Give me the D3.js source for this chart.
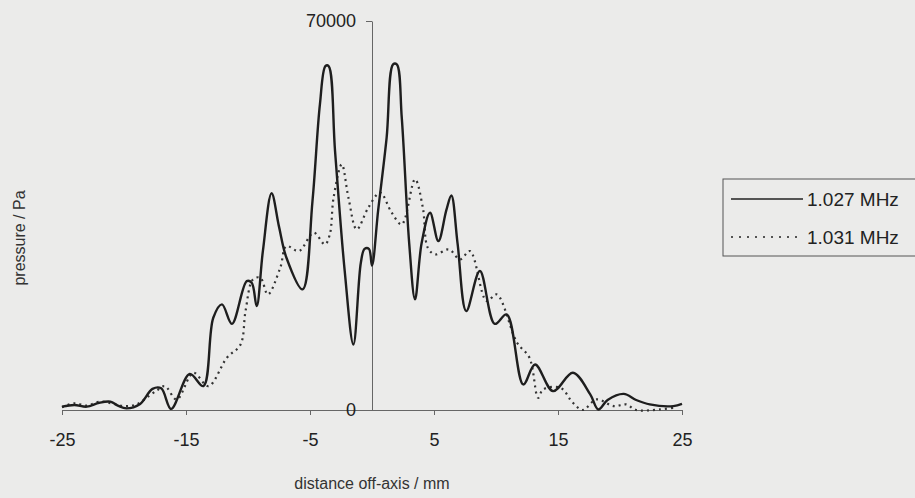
<!DOCTYPE html>
<html>
<head>
<meta charset="utf-8">
<script src="https://cdn.jsdelivr.net/npm/d3@7"></script>
<style>
  body { margin: 0; background: #ebebea; }
  svg { display: block; font-family: "Liberation Sans", Arial, sans-serif; }
  .axis path, .axis line { stroke: #666; stroke-width: 1; }
  .axis text { fill: #222; }
  .label { fill: #333; }
</style>
</head>
<body>
<svg width="915" height="498"></svg>
<script>
const w = 915, h = 498;

// distance off-axis (mm) and pressure (Pa)
const xSolid = [-25, -24, -23, -22, -21.1, -20.5, -19.8, -18.7, -17.7, -17.0, -16.2, -14.7, -13.6, -12.8, -12.1, -11.3,
    -10.1, -9.7, -9.3, -8.8, -8.1, -7.5, -6.9, -5.6, -4.8, -4.2, -3.75, -3.5, -2.98, -2.2, -1.5, -0.9, -0.6, -0.25, 0,
    0.5, 1.18, 1.7, 2.0, 2.4, 3.0, 3.47, 4.0, 4.68, 5.35, 6.0, 6.4, 6.9, 7.6, 8.7, 9.9, 10.86, 12.2, 13.15, 14.6,
    16.2, 17.6, 18.25, 19.0, 20.3, 21.3, 22.4, 24.3, 25];
const ySolid = [600, 900, 600, 1300, 1500, 800, 300, 1100, 3800, 3900, 200, 6500, 4300, 16600, 19000, 15500,
    23200, 22900, 18700, 28600, 39000, 33000, 27400, 21700, 37600, 55000, 61900, 61900, 46600, 25000, 11800, 26500, 29000, 29000, 26000,
    36000, 49000, 62200, 62200, 52600, 30000, 19900, 30000, 35500, 30400, 36000, 38600, 30000, 17800, 25000, 15500, 17200, 4600, 8200, 3400,
    6700, 2800, 100, 1800, 2900, 1800, 1000, 700, 1100];

const xDotted = [-25, -24, -23, -22, -21, -20, -19, -18, -17.3, -16.7, -15.75, -14.4, -13.2, -11.7, -10.6, -10.2,
    -9.6, -9.0, -8.4, -7.4, -6.9, -5.9, -4.7, -3.8, -3.4, -3.1, -2.44, -1.9, -1.23, -0.3, 0.65, 1.59, 2.4, 3.47,
    4.1, 4.5, 5.1, 6.2, 7.1, 7.9, 9.25, 10.05, 11.7, 12.7, 13.4, 13.8, 15.2, 16.2, 17.0, 18.1, 19.5, 20.5, 21.3, 23.2, 24.3];
const yDotted = [500, 1200, 800, 1500, 1200, 700, 1000, 2500, 3600, 4300, 1900, 6700, 4300, 9400, 11800, 17800,
    23500, 23800, 20800, 25600, 29500, 28600, 31900, 29800, 31600, 38200, 44200, 38200, 32500, 36400, 39100, 35500, 33400, 41500,
    36400, 29200, 28000, 28900, 27100, 28600, 19600, 20800, 12100, 9400, 2200, 3700, 4000, 1300, 0, 1900, 700, 1000, 0, 100, 400];

const seriesNames = ["1.027 MHz", "1.031 MHz"];
const xTicks = [-25, -15, -5, 5, 15, 25];
const yTicks = [0, 70000];

const scaleX = d3.scaleLinear().domain([-25, 25]).range([62, 682]);
const scaleY = d3.scaleLinear().domain([0, 70000]).range([410, 21]);

const svg = d3.select("svg");

// x axis along the bottom, y axis through zero (plain hyphen for negatives)
svg.append("g").attr("class", "axis")
    .attr("transform", `translate(0,${scaleY(0)})`)
    .call(d3.axisBottom(scaleX).tickValues(xTicks).tickFormat(d => String(d)).tickSize(5).tickPadding(18).tickSizeOuter(0))
    .call(g => g.selectAll("text").attr("font-size", 18).attr("font-family", null));

svg.append("g").attr("class", "axis")
    .attr("transform", `translate(${scaleX(0)},0)`)
    .call(d3.axisLeft(scaleY).tickValues(yTicks).tickFormat(d => String(d)).tickSize(6).tickPadding(10).tickSizeOuter(0))
    .call(g => g.selectAll("text").attr("font-size", 18).attr("font-family", null));

svg.append("text").attr("class", "label")
    .attr("x", scaleX(0)).attr("y", 489)
    .attr("text-anchor", "middle").attr("font-size", 16)
    .text("distance off-axis / mm");
svg.append("text").attr("class", "label")
    .attr("transform", `translate(${[25, 238]}) rotate(-90)`)
    .attr("text-anchor", "middle").attr("font-size", 16)
    .text("pressure / Pa");

const line = d3.line()
    .x(d => scaleX(d[0]))
    .y(d => scaleY(d[1]))
    .curve(d3.curveCatmullRom.alpha(0.5));

svg.append("path")
    .datum(d3.zip(xDotted, yDotted))
    .attr("d", line)
    .attr("fill", "none")
    .attr("stroke", "#333")
    .attr("stroke-width", 2.2)
    .attr("stroke-dasharray", "2,4");

svg.append("path")
    .datum(d3.zip(xSolid, ySolid))
    .attr("d", line)
    .attr("fill", "none")
    .attr("stroke", "#1e1e1e")
    .attr("stroke-width", 2.4)
    .attr("stroke-linejoin", "round");

// legend box, cut by the right edge
const legend = svg.append("g").attr("transform", `translate(${[723, 179]})`);
legend.append("rect")
    .attr("width", 200).attr("height", 77)
    .attr("fill", "none").attr("stroke", "#555");
legend.selectAll("g.item")
    .data(seriesNames)
    .join("g").attr("class", "item")
    .each(function(d, i) {
        const y = 20 + i * 38;
        d3.select(this).append("line")
            .attr("x1", 8).attr("x2", 80).attr("y1", y).attr("y2", y)
            .attr("stroke", "#222")
            .attr("stroke-width", i ? 1.6 : 1.3)
            .attr("stroke-dasharray", i ? "2,6" : null);
        d3.select(this).append("text")
            .attr("x", 84).attr("y", y).attr("dy", "0.35em")
            .attr("font-size", 19).attr("fill", "#222")
            .text(d);
    });
</script>
</body>
</html>
